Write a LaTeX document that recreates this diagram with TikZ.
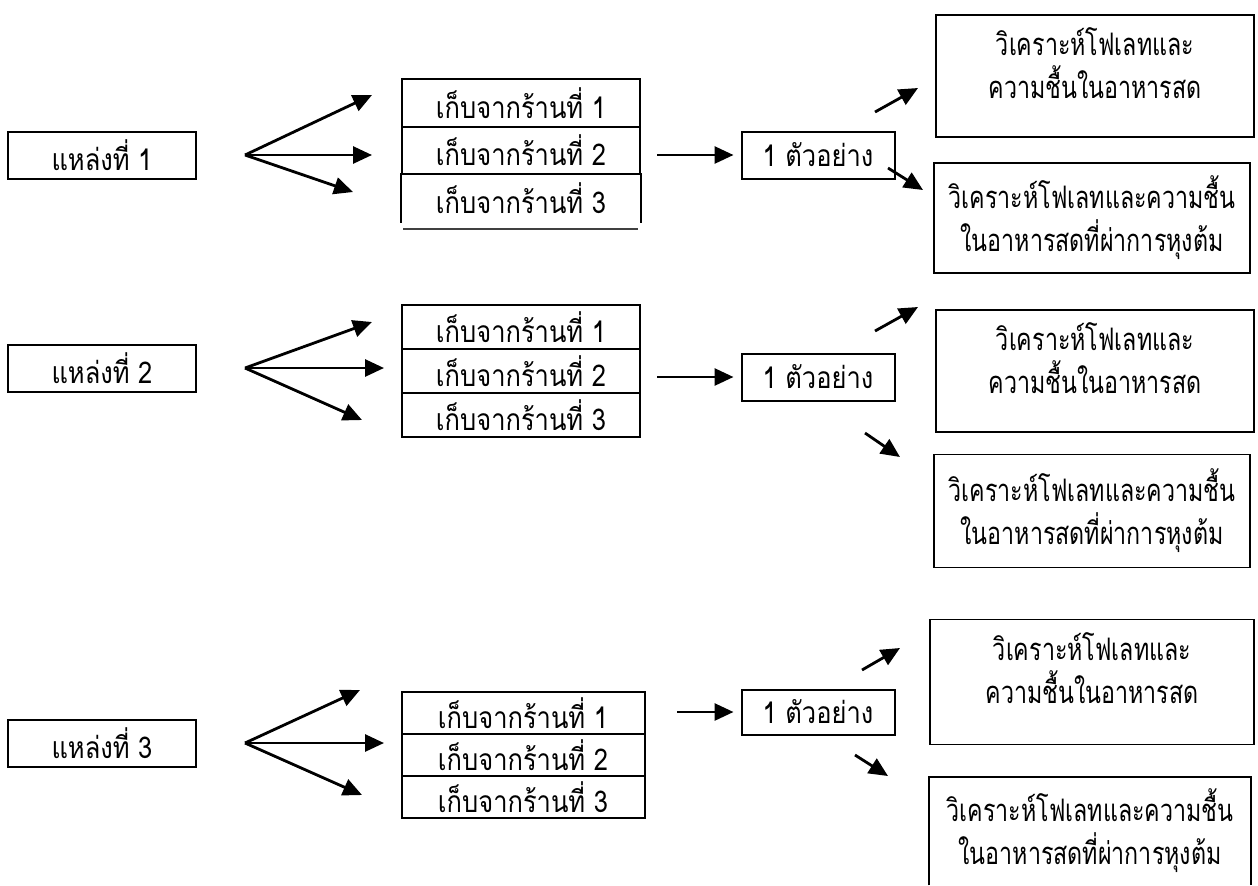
\documentclass[tikz,border=0pt]{standalone}
\usepackage{fontspec}
\newfontfamily\thaifont[Script=Thai, FakeStretch=0.85]{Loma}
\newfontfamily\thainarrow[Script=Thai, FakeStretch=0.75]{Loma}
\usetikzlibrary{arrows.meta}

\newlength{\du}
\setlength{\du}{0.5pt}

\tikzset{
  thai/.style={font=\thaifont\fontsize{15}{21.5}\selectfont},
  srcbox/.style={thai, draw, line width=1pt, minimum width=188\du, minimum height=47\du, inner sep=0pt},
  shopcell/.style={thai, draw, line width=1pt, minimum width=238\du, inner sep=0pt},
  smpbox/.style={thai, draw, line width=1pt, minimum width=153\du, minimum height=47\du, inner sep=0pt},
  anabox/.style={font=\thainarrow\fontsize{15.5}{21.5}\selectfont, draw, line width=0.9pt, align=center, inner sep=0pt},
  fan/.style={line width=1.4pt, -{Triangle[length=9.5pt,width=8.5pt]}},
}

\begin{document}
\begin{tikzpicture}
\pgftransformyscale{-1.000000}
\useasboundingbox (0\du,0\du) rectangle (1258\du,885\du);

% source 1
\node[srcbox] (src1) at (102\du,155\du) {แหล่งที่ 1};
\coordinate (fan1) at (245\du,155\du);
\coordinate (tip11) at (372\du,95\du);
\coordinate (tip12) at (372\du,155\du);
\coordinate (tip13) at (353\du,192\du);
\draw[fan] (fan1)--(tip11);
\draw[fan] (fan1)--(tip12);
\draw[fan] (fan1)--(tip13);
\node[shopcell, minimum height=48\du] (shop11) at (521\du,103\du) {เก็บจากร้านที่ 1};
\node[shopcell, minimum height=47\du] (shop12) at (521\du,150.5\du) {เก็บจากร้านที่ 2};
\node[shopcell, minimum height=48\du, draw=none] (shop13) at (521\du,198\du) {เก็บจากร้านที่ 3};
\draw[line width=1pt] (shop13.north west)--(shop13.south west);
\draw[line width=1pt] (shop13.north east)--(shop13.south east);
\coordinate (rule1a) at (403\du,229\du);
\coordinate (rule1b) at (638\du,229\du);
\draw[line width=1.3pt, black!75] (rule1a)--(rule1b);
\node[smpbox] (smp1) at (818\du,155\du) {1 ตัวอย่าง};
\coordinate (go1) at (657\du,155\du);
\draw[fan] (go1)--([xshift=-7\du]smp1.west);
\coordinate (ne1a) at (875\du,112\du);
\coordinate (ne1b) at (918\du,88\du);
\coordinate (se1a) at (888\du,168\du);
\coordinate (se1b) at (923\du,190\du);
\draw[fan] (ne1a)--(ne1b);
\draw[fan] (se1a)--(se1b);
\node[anabox, minimum width=318\du, minimum height=122\du, text depth=26\du] (raw1) at (1095\du,76\du) {วิเคราะห์โฟเลทและ\\ความชื้นในอาหารสด};
\node[anabox, minimum width=316\du, minimum height=110\du] (boil1) at (1092\du,218\du) {วิเคราะห์โฟเลทและความชื้น\\ในอาหารสดที่ผ่าการหุงต้ม};

% source 2
\node[srcbox] (src2) at (102\du,368\du) {แหล่งที่ 2};
\coordinate (fan2) at (245\du,368\du);
\coordinate (tip21) at (372\du,322\du);
\coordinate (tip22) at (384\du,368\du);
\coordinate (tip23) at (362\du,420\du);
\draw[fan] (fan2)--(tip21);
\draw[fan] (fan2)--(tip22);
\draw[fan] (fan2)--(tip23);
\node[shopcell, minimum height=44\du] (shop21) at (521\du,327\du) {เก็บจากร้านที่ 1};
\node[shopcell, minimum height=44\du] (shop22) at (521\du,371\du) {เก็บจากร้านที่ 2};
\node[shopcell, minimum height=44\du] (shop23) at (521\du,415\du) {เก็บจากร้านที่ 3};
\node[smpbox] (smp2) at (818\du,377\du) {1 ตัวอย่าง};
\coordinate (go2) at (657\du,377\du);
\draw[fan] (go2)--([xshift=-7\du]smp2.west);
\coordinate (ne2a) at (875\du,331\du);
\coordinate (ne2b) at (918\du,307\du);
\coordinate (se2a) at (865\du,433\du);
\coordinate (se2b) at (900\du,457\du);
\draw[fan] (ne2a)--(ne2b);
\draw[fan] (se2a)--(se2b);
\node[anabox, minimum width=318\du, minimum height=122\du, text depth=26\du] (raw2) at (1095\du,371\du) {วิเคราะห์โฟเลทและ\\ความชื้นในอาหารสด};
\node[anabox, minimum width=316\du, minimum height=113\du] (boil2) at (1092\du,511\du) {วิเคราะห์โฟเลทและความชื้น\\ในอาหารสดที่ผ่าการหุงต้ม};

% source 3
\node[srcbox] (src3) at (102\du,743\du) {แหล่งที่ 3};
\coordinate (fan3) at (245\du,743\du);
\coordinate (tip31) at (360\du,690\du);
\coordinate (tip32) at (384\du,743\du);
\coordinate (tip33) at (362\du,795\du);
\draw[fan] (fan3)--(tip31);
\draw[fan] (fan3)--(tip32);
\draw[fan] (fan3)--(tip33);
\node[shopcell, minimum width=243\du, minimum height=42\du] (shop31) at (523\du,713\du) {เก็บจากร้านที่ 1};
\node[shopcell, minimum width=243\du, minimum height=42\du] (shop32) at (523\du,755\du) {เก็บจากร้านที่ 2};
\node[shopcell, minimum width=243\du, minimum height=42\du] (shop33) at (523\du,797\du) {เก็บจากร้านที่ 3};
\node[smpbox, minimum height=45\du] (smp3) at (818\du,712\du) {1 ตัวอย่าง};
\coordinate (go3) at (677\du,712\du);
\draw[fan] (go3)--([xshift=-7\du]smp3.west);
\coordinate (ne3a) at (862\du,670\du);
\coordinate (ne3b) at (900\du,648\du);
\coordinate (se3a) at (855\du,755\du);
\coordinate (se3b) at (888\du,776\du);
\draw[fan] (ne3a)--(ne3b);
\draw[fan] (se3a)--(se3b);
\node[anabox, minimum width=324\du, minimum height=125\du, text depth=28\du] (raw3) at (1092\du,682\du) {วิเคราะห์โฟเลทและ\\ความชื้นในอาหารสด};
% bottom edge falls off the page
\node[anabox, draw=none, minimum width=320\du, minimum height=107\du] (boil3) at (1090\du,831\du) {วิเคราะห์โฟเลทและความชื้น\\ในอาหารสดที่ผ่าการหุงต้ม};
\draw[line width=0.9pt] (boil3.south west)--(boil3.north west)--(boil3.north east)--(boil3.south east);
\end{tikzpicture}
\end{document}
